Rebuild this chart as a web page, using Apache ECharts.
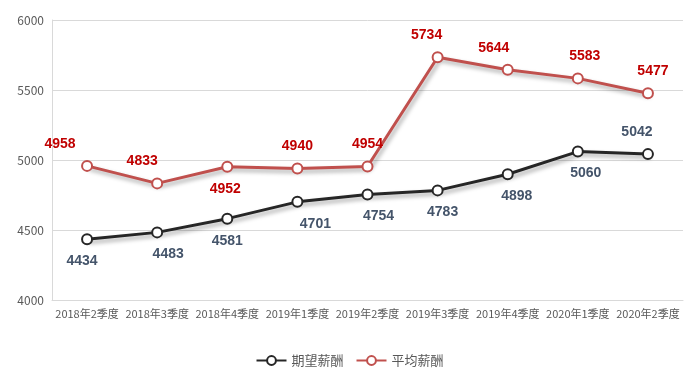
<!DOCTYPE html>
<html><head><meta charset="utf-8">
<script src="https://cdn.jsdelivr.net/npm/echarts@6/dist/echarts.min.js"></script>
<style>html,body{margin:0;padding:0;background:#fff}#c{width:699px;height:380px}</style>
</head><body><div id="c"></div>
<script>
const categories = ['2018年2季度','2018年3季度','2018年4季度','2019年1季度','2019年2季度','2019年3季度','2019年4季度','2020年1季度','2020年2季度'];
const expectedPay = [4434,4483,4581,4701,4754,4783,4898,5060,5042];
const averagePay = [4958,4833,4952,4940,4954,5734,5644,5583,5477];
const yTicks = [4000,4500,5000,5500,6000];

// label placement per point (style only)
const expLabel = [['bottom',-5],['bottom',11],['bottom',0],['bottom',18],['bottom',11],['bottom',5],['bottom',9],['bottom',8],['top',-11]];
const avgLabel = [['top',-27],['top',-15],['bottom',-2],['top',0],['top',0],['top',-11],['top',-14],['top',7],['top',5]];

const font = '"Noto Sans CJK SC", sans-serif';
function mk(vals, pos, color){
  return vals.map((v,i)=>({value:v,label:{position:pos[i][0],offset:[pos[i][1], pos[i][0]==='top'?-1:1],color:color}}));
}
const chart = echarts.init(document.getElementById('c'));
chart.setOption({
  animation:false,
  textStyle:{fontFamily:font},
  grid:{left:52,right:16,top:20,bottom:80},
  legend:{bottom:8,left:'center',itemWidth:30,itemHeight:11,itemGap:12,
    textStyle:{color:'#595959',fontSize:13,fontFamily:font},
    data:['期望薪酬','平均薪酬']},
  xAxis:{type:'category',data:categories,boundaryGap:true,
    axisLine:{lineStyle:{color:'#D9D9D9'}},axisTick:{show:false},
    axisLabel:{color:'#595959',fontSize:11,interval:0,margin:8,fontFamily:font}},
  yAxis:{type:'value',min:yTicks[0],max:yTicks[yTicks.length-1],interval:500,
    axisLine:{show:true,lineStyle:{color:'#D9D9D9'}},axisTick:{show:false},
    splitLine:{lineStyle:{color:'#D9D9D9'}},
    axisLabel:{color:'#595959',fontSize:12,margin:8,fontFamily:font,formatter:v=>String(v)}},
  series:[
    {name:'期望薪酬',type:'line',data:mk(expectedPay,expLabel,'#44546A'),
     symbol:'emptyCircle',symbolSize:10,
     itemStyle:{color:'#262626',borderWidth:3},
     lineStyle:{color:'#262626',width:3,shadowColor:'rgba(0,0,0,0.35)',shadowBlur:4,shadowOffsetX:2,shadowOffsetY:3},
     label:{show:true,fontSize:14,fontWeight:'bold',distance:8,fontFamily:'"Liberation Sans", sans-serif'}},
    {name:'平均薪酬',type:'line',data:mk(averagePay,avgLabel,'#C00000'),
     symbol:'emptyCircle',symbolSize:10,
     itemStyle:{color:'#C0504D',borderWidth:3},
     lineStyle:{color:'#C0504D',width:3,shadowColor:'rgba(0,0,0,0.35)',shadowBlur:4,shadowOffsetX:2,shadowOffsetY:3},
     label:{show:true,fontSize:14,fontWeight:'bold',distance:8,fontFamily:'"Liberation Sans", sans-serif'}}
  ]
});
</script></body></html>
